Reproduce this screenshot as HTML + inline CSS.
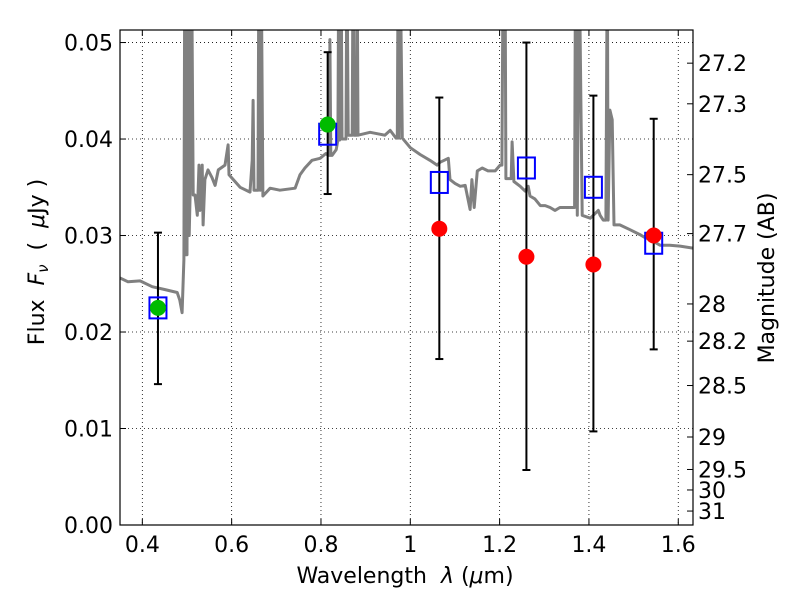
<!DOCTYPE html>
<html><head><meta charset="utf-8"><style>
body{margin:0;background:#fff;}
svg text{font-family:"DejaVu Sans","Liberation Sans",sans-serif;fill:#000;}
</style></head><body>
<svg id="chart" width="800" height="600" xmlns="http://www.w3.org/2000/svg">
<defs><clipPath id="clip"><rect x="120" y="30" width="573" height="495"/></clipPath></defs>
<rect x="0" y="0" width="800" height="600" fill="#fff"/>
<g id="grid"></g>
<g id="spec" clip-path="url(#clip)"></g>
<g id="marks"></g>
<rect x="120" y="30" width="573" height="495" fill="none" stroke="#000" stroke-width="1.2"/>
<g id="axes"></g>
<text x="405" y="583" font-size="22" text-anchor="middle" xml:space="preserve">Wavelength  <tspan font-style="italic">λ</tspan> (<tspan font-style="italic">μ</tspan>m)</text>
<text transform="translate(44,262) rotate(-90)" font-size="22" text-anchor="middle" xml:space="preserve">Flux  <tspan font-style="italic">F<tspan font-size="15" dy="4">ν</tspan></tspan><tspan dy="-4">  (  </tspan><tspan font-style="italic">μ</tspan>Jy )</text>
<text transform="translate(774,278) rotate(-90)" font-size="22" text-anchor="middle">Magnitude (AB)</text>
</svg>
<script>
const xTicks=[0.4,0.6,0.8,1.0,1.2,1.4,1.6];
const xTickLabels=["0.4","0.6","0.8","1","1.2","1.4","1.6"];
const yTicks=[0,0.01,0.02,0.03,0.04,0.05];
const yTickLabels=["0.00","0.01","0.02","0.03","0.04","0.05"];
const magTicks=[27.2,27.3,27.5,27.7,28,28.2,28.5,29,29.5,30,31];
const magLabels=["27.2","27.3","27.5","27.7","28","28.2","28.5","29","29.5","30","31"];
const specLam=[0.350,0.368,0.395,0.422,0.451,0.478,0.484,0.489,0.493,0.495,0.497,0.500,0.502,0.505,0.507,0.510,0.514,0.518,0.523,0.527,0.529,0.534,0.536,0.540,0.547,0.556,0.563,0.570,0.585,0.592,0.594,0.619,0.641,0.646,0.648,0.650,0.659,0.661,0.664,0.666,0.670,0.686,0.708,0.742,0.753,0.764,0.780,0.798,0.811,0.816,0.819,0.820,0.822,0.825,0.834,0.838,0.840,0.842,0.845,0.847,0.850,0.856,0.858,0.861,0.863,0.870,0.872,0.874,0.879,0.881,0.883,0.910,0.943,0.955,0.968,0.971,0.973,0.975,0.977,0.982,1.000,1.022,1.044,1.060,1.067,1.076,1.085,1.089,1.100,1.112,1.123,1.134,1.138,1.143,1.150,1.161,1.174,1.190,1.201,1.205,1.208,1.212,1.214,1.217,1.226,1.228,1.232,1.246,1.257,1.264,1.268,1.279,1.291,1.302,1.313,1.324,1.335,1.364,1.368,1.370,1.374,1.378,1.385,1.403,1.421,1.425,1.432,1.436,1.438,1.441,1.443,1.447,1.452,1.456,1.469,1.492,1.514,1.525,1.537,1.559,1.581,1.604,1.633];
const specFlux=[0.0256,0.0252,0.0253,0.0247,0.0244,0.0241,0.0233,0.0220,0.0275,0.060,0.0280,0.0280,0.060,0.0300,0.0342,0.060,0.0342,0.0342,0.0321,0.0373,0.0326,0.0373,0.0311,0.0358,0.0368,0.0360,0.0352,0.0368,0.0373,0.0394,0.0363,0.0350,0.0345,0.0378,0.0440,0.0347,0.0347,0.060,0.0347,0.060,0.0341,0.0349,0.0347,0.0349,0.0363,0.0370,0.0378,0.0380,0.0385,0.0383,0.0383,0.0503,0.0383,0.0383,0.0389,0.0399,0.060,0.0399,0.060,0.0400,0.0400,0.0400,0.060,0.0404,0.0404,0.0404,0.060,0.0404,0.0404,0.060,0.0404,0.0407,0.0404,0.0409,0.0401,0.0401,0.060,0.0401,0.060,0.0401,0.0391,0.0384,0.0378,0.0373,0.0376,0.0378,0.0380,0.0358,0.0354,0.0351,0.0352,0.0327,0.0358,0.0329,0.0367,0.0370,0.0367,0.0367,0.0373,0.0373,0.060,0.060,0.0359,0.0359,0.0359,0.0397,0.0356,0.0351,0.0346,0.0351,0.0341,0.0338,0.0331,0.0331,0.0329,0.0326,0.0329,0.0329,0.0329,0.060,0.0321,0.060,0.0321,0.0318,0.0326,0.0321,0.0316,0.0316,0.0316,0.060,0.0316,0.0430,0.0420,0.0311,0.0311,0.0306,0.0301,0.0298,0.0296,0.0290,0.0290,0.0289,0.0287];
const bandLam=[0.435,0.815,1.065,1.26,1.41,1.545];
const modelFlux=[0.0225,0.0405,0.0355,0.0370,0.0350,0.0292];
const obsFlux=[0.0225,0.0415,0.0307,0.0278,0.0270,0.0300];
const errLow=[0.0146,0.0343,0.0172,0.0057,0.0097,0.0182];
const errHigh=[0.0303,0.0490,0.0443,0.0500,0.0445,0.0421];
const obsDetected=[true,true,false,false,false,false];

const X0=120,X1=693,Y0=525,Y1=30,XMIN=0.35,XMAX=1.633,YMIN=0,YMAX=0.0513;
function sx(v){return X0+(v-XMIN)/(XMAX-XMIN)*(X1-X0);}
function sy(v){return Y0-(v-YMIN)/(YMAX-YMIN)*(Y0-Y1);}
function magToFlux(m){return Math.pow(10,(23.9-m)/2.5);}
const NS="http://www.w3.org/2000/svg";
function mk(tag,attrs,parent){const e=document.createElementNS(NS,tag);for(const k in attrs)e.setAttribute(k,attrs[k]);document.getElementById(parent).appendChild(e);return e;}

xTicks.forEach((t,i)=>{
  const x=sx(t);
  const g=mk('line',{x1:x,x2:x,y1:Y1,y2:Y0,stroke:'#000','stroke-width':0.8,'stroke-dasharray':'1,3'},'grid');
  
  
  mk('line',{x1:x,x2:x,y1:Y0,y2:Y0-6,stroke:'#000'},'axes');
  mk('line',{x1:x,x2:x,y1:Y1,y2:Y1+6,stroke:'#000'},'axes');
  const tx=mk('text',{x:x,y:Y0+27,'font-size':22,'text-anchor':'middle'},'axes');
  tx.textContent=xTickLabels[i];
  
  
});
yTicks.forEach((t,i)=>{
  const y=sy(t);
  const g=mk('line',{x1:X0,x2:X1,y1:y,y2:y,stroke:'#000','stroke-width':0.8,'stroke-dasharray':'1,3'},'grid');
  
  
  mk('line',{x1:X0,x2:X0+6,y1:y,y2:y,stroke:'#000'},'axes');
  const tx=mk('text',{x:X0-7,y:y+8,'font-size':22,'text-anchor':'end'},'axes');
  tx.textContent=yTickLabels[i];
  
  
});
magTicks.forEach((m,i)=>{
  const y=sy(magToFlux(m));
  mk('line',{x1:X1,x2:X1-6,y1:y,y2:y,stroke:'#000'},'axes');
  const tx=mk('text',{x:X1+5,y:y+8,'font-size':22,'text-anchor':'start'},'axes');
  tx.textContent=magLabels[i];
  
  
});
let d='';
specLam.forEach((l,i)=>{d+=(i?'L':'M')+sx(l).toFixed(1)+','+sy(specFlux[i]).toFixed(1);});
const sp=mk('path',{d:d,fill:'none',stroke:'#808080','stroke-width':3,'stroke-linejoin':'round'},'spec');



bandLam.forEach((l,i)=>{
  const x=sx(l);
  const e=mk('line',{x1:x,x2:x,y1:sy(errLow[i]),y2:sy(errHigh[i]),stroke:'#000','stroke-width':2},'marks');
  
  
  mk('line',{x1:x-4,x2:x+4,y1:sy(errLow[i]),y2:sy(errLow[i]),stroke:'#000','stroke-width':2},'marks');
  mk('line',{x1:x-4,x2:x+4,y1:sy(errHigh[i]),y2:sy(errHigh[i]),stroke:'#000','stroke-width':2},'marks');
});
bandLam.forEach((l,i)=>{
  const x=sx(l),y=sy(modelFlux[i]);
  const r=mk('rect',{x:x-8.5,y:y-10.5,width:17,height:21,fill:'none',stroke:'#0000ff','stroke-width':2},'marks');
  
  
});
bandLam.forEach((l,i)=>{
  const c=mk('circle',{cx:sx(l),cy:sy(obsFlux[i]),r:8,fill:obsDetected[i]?'#00bb00':'#ff0000'},'marks');
  
  
});
</script>
</body></html>
